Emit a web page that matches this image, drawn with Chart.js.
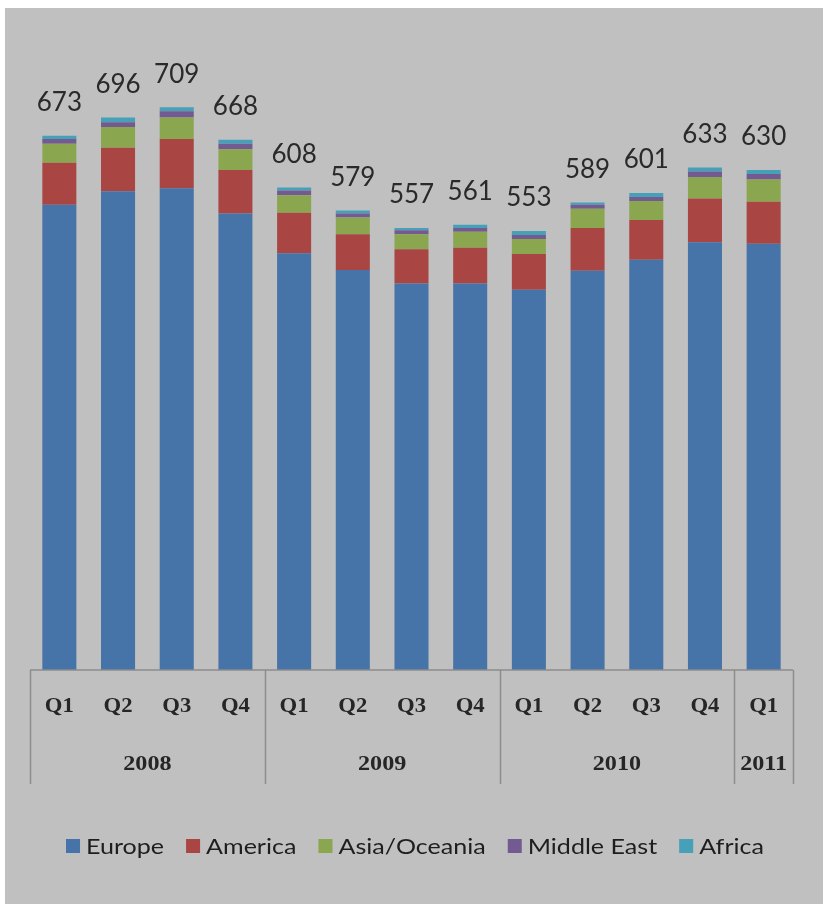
<!DOCTYPE html>
<html>
<head>
  <meta charset="utf-8">
  <title>Quarterly totals by region</title>
  <style>
    body { margin: 0; background: #fff; }
    #wrap { position: absolute; left: 5px; top: 8px; width: 818px; height: 896px; background: #c0c0c0; }
  </style>
</head>
<body>
  <div id="wrap">
    <canvas id="chart" width="818" height="896"></canvas>
  </div>

  <script src="https://cdn.jsdelivr.net/npm/chart.js"></script>
  <script>
    // data
    const quarters = ['Q1', 'Q2', 'Q3', 'Q4', 'Q1', 'Q2', 'Q3', 'Q4', 'Q1', 'Q2', 'Q3', 'Q4', 'Q1'];
    const years = ['2008', '2009', '2010', '2011'];
    const yearSpans = [4, 4, 4, 1];

    const europe     = [586, 603, 607, 575, 525, 504, 487, 487, 479, 503, 517, 539, 537];
    const america    = [53, 55, 62, 55, 51, 45, 43, 45, 45, 54, 50, 55, 53];
    const asia       = [24, 26, 27, 26, 22, 21, 19, 20, 19, 24, 24, 27, 28];
    const middleEast = [6, 6, 8, 7, 6, 5, 5, 5, 5, 5, 5, 7, 7];
    const africa     = [4, 6, 5, 5, 4, 4, 3, 4, 5, 3, 5, 5, 5];

    const seriesNames = ['Europe', 'America', 'Asia/Oceania', 'Middle East', 'Africa'];
    const seriesData = [europe, america, asia, middleEast, africa];
    const colors = ['#4673a8', '#a94644', '#8aa74f', '#735a91', '#45a0b8'];

    const textColor = '#1e1e1e';
    const axisColor = '#8c8c8c';

    // text stretched sideways a little, the source looks widened
    function wideText(ctx, txt, x, y, sx) {
      ctx.save();
      ctx.translate(x, y);
      ctx.scale(sx, 1);
      ctx.fillText(txt, 0, 0);
      ctx.restore();
    }

    // totals above each bar
    const totalsPlugin = {
      id: 'totals',
      afterDatasetsDraw(chart) {
        const ctx = chart.ctx;
        const x = chart.scales.x, y = chart.scales.y;
        ctx.save();
        ctx.font = '26px Lato';
        ctx.fillStyle = '#2a2a2a';
        ctx.textAlign = 'center';
        ctx.textBaseline = 'middle';
        quarters.forEach((q, i) => {
          let total = 0;
          seriesData.forEach(s => total += s[i]);
          ctx.fillText(String(total), x.getPixelForValue(i), y.getPixelForValue(total) - 33);
        });
        ctx.restore();
      }
    };

    // two-level category axis + legend
    const axisPlugin = {
      id: 'axisGroups',
      afterDraw(chart) {
        const ctx = chart.ctx;
        const area = chart.chartArea;
        const x = chart.scales.x;
        const step = (area.right - area.left) / quarters.length;
        const bottom = area.bottom;
        ctx.save();
        ctx.strokeStyle = axisColor;
        ctx.lineWidth = 1.5;
        ctx.beginPath();
        ctx.moveTo(area.left, bottom);
        ctx.lineTo(area.right, bottom);
        let idx = 0;
        const bounds = [0];
        yearSpans.forEach(s => { idx += s; bounds.push(idx); });
        bounds.forEach(b => {
          const px = Math.round(area.left + b * step) + 0.5;
          ctx.moveTo(px, bottom);
          ctx.lineTo(px, bottom + 114);
        });
        ctx.stroke();

        ctx.fillStyle = '#262626';
        ctx.textAlign = 'center';
        ctx.textBaseline = 'middle';
        ctx.font = 'bold 21px "Liberation Serif"';
        quarters.forEach((q, i) => wideText(ctx, q, x.getPixelForValue(i), bottom + 37, 1.08));
        years.forEach((yr, j) => {
          const mid = area.left + (bounds[j] + bounds[j + 1]) / 2 * step;
          wideText(ctx, yr, mid, bottom + 95, 1.15);
        });

        // legend
        const sx = 1.14;
        ctx.font = '22px Lato';
        const box = 14, boxGap = 6, itemGap = 22;
        const widths = seriesNames.map(n => box + boxGap + ctx.measureText(n).width * sx);
        const total = widths.reduce((a, b) => a + b, 0) + itemGap * (widths.length - 1);
        let lx = 415 - 5 - total / 2;
        const ly = 838;
        ctx.textAlign = 'left';
        seriesNames.forEach((n, i) => {
          ctx.fillStyle = colors[i];
          ctx.fillRect(lx, ly - box / 2, box, box);
          ctx.fillStyle = textColor;
          wideText(ctx, n, lx + box + boxGap, ly + 1, sx);
          lx += widths[i] + itemGap;
        });
        ctx.restore();
      }
    };

    new Chart(document.getElementById('chart'), {
      type: 'bar',
      data: {
        labels: quarters,
        datasets: seriesNames.map((name, i) => ({
          label: name,
          data: seriesData[i],
          backgroundColor: colors[i],
          borderWidth: 0,
          categoryPercentage: 1,
          barPercentage: 0.58
        }))
      },
      options: {
        responsive: false,
        animation: false,
        layout: { padding: { left: 25, right: 30, top: 27, bottom: 234 } },
        scales: {
          x: { stacked: true, display: false },
          y: { stacked: true, display: false, min: 0, max: 800 }
        },
        plugins: {
          legend: { display: false },
          tooltip: { enabled: false }
        }
      },
      plugins: [totalsPlugin, axisPlugin]
    });
  </script>
</body>
</html>
